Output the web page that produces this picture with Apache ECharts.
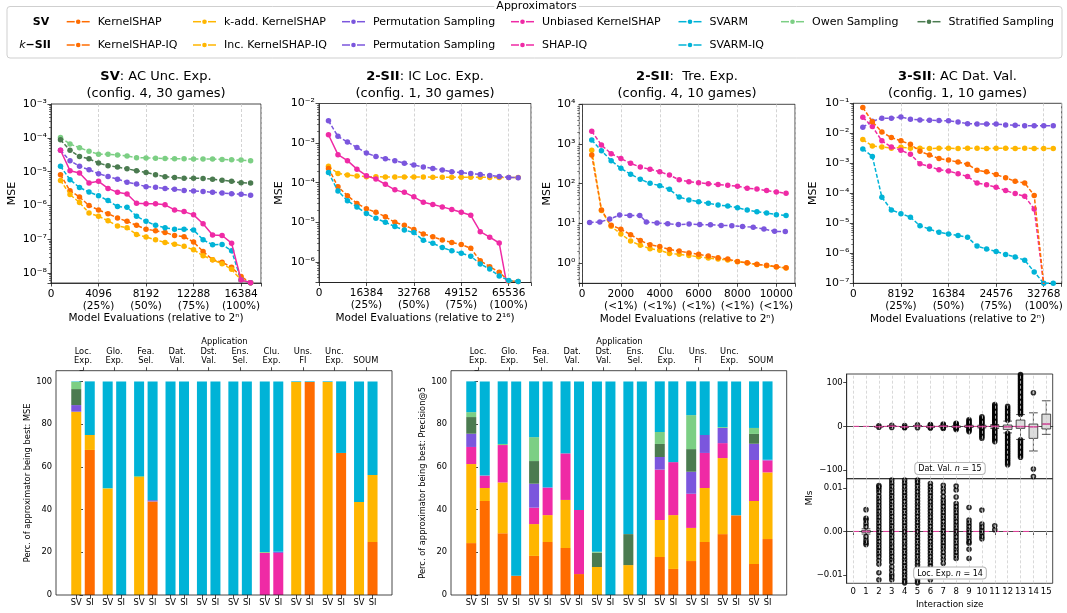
<!DOCTYPE html>
<html>
<head>
<meta charset="utf-8">
<script src="https://cdn.jsdelivr.net/npm/echarts@6/dist/echarts.min.js"></script>
<style>
  html, body { margin: 0; background: #fff; }
  #chart { width: 1067px; height: 613px; }
</style>
</head>
<body>
<div id="chart"></div>
<script>
// colours of the approximators (same colour for the SV and the k-SII variant)
const C = { orange: '#ff6c00', yellow: '#ffb600', purple: '#7b56dd', pink: '#ef2aa5', cyan: '#00b3d7', lgreen: '#7ccf84', dgreen: '#4b7b50' };
const FONT = 'DejaVu Sans';

// ---------- top row: MSE curves ----------
// panel 1: SV, AC Unc. Exp.
const p1X = [819, 1638, 2458, 3277, 4096, 4915, 5734, 6554, 7373, 8192, 9011, 9830, 10650, 11469, 12288, 13107, 13926, 14746, 15565, 16384, 17203];
const p1KernelSHAP = [8.1e-6, 2.74e-6, 1.78e-6, 1.0e-6, 7.4e-7, 5.7e-7, 4.3e-7, 3.4e-7, 2.6e-7, 2.0e-7, 1.8e-7, 1.6e-7, 1.3e-7, 1.2e-7, 8.3e-8, 4.4e-8, 2.5e-8, 2.1e-8, 1.5e-8, 8e-9, 5.2e-9];
const p1KAdd = [5.5e-6, 2.1e-6, 1.23e-6, 6.0e-7, 4.8e-7, 3.55e-7, 2.5e-7, 2.2e-7, 1.4e-7, 1.17e-7, 9.7e-8, 8.1e-8, 7.2e-8, 6.2e-8, 4.9e-8, 3.3e-8, 2.5e-8, 1.9e-8, 1.3e-8, 6.3e-9, 5.2e-9];
const p1Perm = [4.3e-5, 2.1e-5, 1.44e-5, 1.14e-5, 8.7e-6, 7.2e-6, 6.0e-6, 4.9e-6, 4.3e-6, 3.6e-6, 3.45e-6, 3.2e-6, 3.0e-6, 2.8e-6, 2.7e-6, 2.6e-6, 2.45e-6, 2.35e-6, 2.24e-6, 2.14e-6, 2.0e-6];
const p1Unbiased = [4.3e-5, 1.07e-5, 9.1e-6, 4.6e-6, 5.2e-6, 3.2e-6, 2.45e-6, 2.2e-6, 1.17e-6, 1.12e-6, 1.12e-6, 1.05e-6, 7.4e-7, 6.6e-7, 5.3e-7, 2.9e-7, 1.35e-7, 1.3e-7, 7.7e-8, 6.3e-9, 5.2e-9];
const p1Svarm = [1.45e-5, 5.8e-6, 3.4e-6, 2.5e-6, 1.95e-6, 1.4e-6, 9.3e-7, 8.9e-7, 4.8e-7, 3.4e-7, 2.6e-7, 2.2e-7, 2.0e-7, 2.0e-7, 1.9e-7, 9.7e-8, 6.9e-8, 7.1e-8, 4.6e-8, 6.3e-9, 5.2e-9];
const p1Owen = [1.03e-4, 6.6e-5, 5.1e-5, 4.0e-5, 3.3e-5, 3.25e-5, 3.1e-5, 2.9e-5, 2.6e-5, 2.55e-5, 2.5e-5, 2.45e-5, 2.4e-5, 2.4e-5, 2.35e-5, 2.35e-5, 2.35e-5, 2.3e-5, 2.25e-5, 2.2e-5, 2.1e-5];
const p1Strat = [8.8e-5, 4.3e-5, 2.8e-5, 2.4e-5, 1.8e-5, 1.5e-5, 1.37e-5, 1.22e-5, 1.07e-5, 9.5e-6, 8.1e-6, 7.1e-6, 6.7e-6, 6.4e-6, 6.4e-6, 6.3e-6, 6.0e-6, 5.6e-6, 5.2e-6, 4.7e-6, 4.6e-6];
const p1TickVals = [0, 4096, 8192, 12288, 16384];
const p1TickText = ['0', '4096\n(25%)', '8192\n(50%)', '12288\n(75%)', '16384\n(100%)'];

// panel 2: 2-SII, IC Loc. Exp.
const p2X = [3277, 6554, 9830, 13107, 16384, 19661, 22938, 26214, 29491, 32768, 36045, 39322, 42598, 45875, 49152, 52429, 55706, 58982, 62259, 65536, 68813];
const p2KernelSHAPIQ = [2.3e-4, 7.9e-5, 4.7e-5, 3.0e-5, 2.2e-5, 1.8e-5, 1.38e-5, 1.0e-5, 8.4e-6, 6.6e-6, 5.1e-6, 4.3e-6, 3.6e-6, 3.1e-6, 2.74e-6, 2.2e-6, 1.07e-6, 7.6e-7, 5.5e-7, 3.3e-7, 3.2e-7];
const p2IncKS = [2.6e-4, 1.72e-4, 1.56e-4, 1.48e-4, 1.42e-4, 1.41e-4, 1.4e-4, 1.4e-4, 1.39e-4, 1.39e-4, 1.39e-4, 1.38e-4, 1.38e-4, 1.38e-4, 1.37e-4, 1.37e-4, 1.37e-4, 1.36e-4, 1.36e-4, 1.35e-4, 1.35e-4];
const p2Perm = [3.65e-3, 1.48e-3, 1.07e-3, 7.8e-4, 5.6e-4, 4.6e-4, 4.04e-4, 3.6e-4, 3.1e-4, 2.8e-4, 2.5e-4, 2.3e-4, 2.1e-4, 1.9e-4, 1.8e-4, 1.7e-4, 1.62e-4, 1.53e-4, 1.44e-4, 1.36e-4, 1.34e-4];
const p2ShapIQ = [1.63e-3, 5.1e-4, 3.6e-4, 2.2e-4, 1.5e-4, 1.24e-4, 9.1e-5, 6.6e-5, 5.7e-5, 4.4e-5, 3.2e-5, 2.8e-5, 2.45e-5, 2.1e-5, 1.8e-5, 1.5e-5, 5.8e-6, 4.2e-6, 3.0e-6, 1.5e-7, 1.5e-7];
const p2SvarmIQ = [1.8e-4, 6.2e-5, 3.5e-5, 2.45e-5, 1.66e-5, 1.26e-5, 1.0e-5, 7.8e-6, 6.4e-6, 5.5e-6, 3.5e-6, 2.95e-6, 2.3e-6, 1.9e-6, 1.66e-6, 1.39e-6, 8.9e-7, 6.6e-7, 4.4e-7, 3.4e-7, 3.2e-7];
const p2TickVals = [0, 16384, 32768, 49152, 65536];
const p2TickText = ['0', '16384\n(25%)', '32768\n(50%)', '49152\n(75%)', '65536\n(100%)'];

// panel 3: 2-SII, Tre. Exp.
const p3X = [500, 1000, 1500, 2000, 2500, 3000, 3500, 4000, 4500, 5000, 5500, 6000, 6500, 7000, 7500, 8000, 8500, 9000, 9500, 10000, 10500];
const p3PermX = [390, 915, 1425, 1935, 2460, 2970, 3310, 3860, 4410, 4960, 5510, 6060, 6610, 7160, 7710, 8260, 8810, 9360, 9910, 10460];
const p3KernelSHAPIQ = [525, 21.6, 9.0, 7.1, 5.2, 3.7, 2.9, 2.6, 2.2, 2.0, 1.8, 1.66, 1.5, 1.36, 1.26, 1.1, 1.02, 0.93, 0.88, 0.81, 0.76];
const p3IncKS = [700, 21, 8.4, 5.4, 3.6, 2.8, 2.3, 2.1, 1.75, 1.66, 1.56, 1.44, 1.34, 1.26, 1.2, 1.08, 1.0, 0.92, 0.86, 0.8, 0.75];
const p3Perm = [10.5, 10.8, 12.8, 16.2, 15.9, 15.9, 10.9, 10.2, 9.8, 9.3, 9.6, 9.3, 9.2, 8.9, 8.7, 8.3, 8.0, 7.2, 6.3, 6.2];
const p3ShapIQ = [2090, 940, 570, 430, 325, 263, 230, 200, 165, 125, 112, 106, 100, 95, 91, 86, 77, 73, 67, 62, 57];
const p3SvarmIQ = [1260, 680, 380, 243, 174, 129, 102, 89, 72, 46, 39, 35, 32, 29, 27.5, 24.7, 21.7, 19.6, 18.2, 16.6, 15.8];
const p3TickVals = [0, 2000, 4000, 6000, 8000, 10000];
const p3TickText = ['0', '2000\n(<1%)', '4000\n(<1%)', '6000\n(<1%)', '8000\n(<1%)', '10000\n(<1%)'];

// panel 4: 3-SII, AC Dat. Val.
const p4X = [1638, 3277, 4915, 6554, 8192, 9830, 11469, 13107, 14746, 16384, 18022, 19661, 21299, 22938, 24576, 26214, 27853, 29491, 31130, 32768, 34406];
const p4KernelSHAPIQ = [0.072, 0.0245, 0.011, 0.0072, 0.0056, 0.0043, 0.0025, 0.0019, 0.00144, 0.00128, 0.0011, 0.00093, 0.00059, 0.00052, 0.00042, 0.00033, 0.00025, 0.00022, 8.5e-5, 9e-8, 9e-8];
const p4IncKS = [0.0062, 0.0038, 0.0035, 0.0032, 0.0034, 0.0032, 0.0032, 0.0031, 0.0032, 0.0032, 0.0031, 0.0032, 0.0032, 0.0031, 0.0032, 0.0032, 0.0031, 0.0032, 0.0031, 0.0031, 0.0031];
const p4Perm = [0.016, 0.025, 0.032, 0.032, 0.035, 0.0295, 0.028, 0.0272, 0.0265, 0.026, 0.024, 0.021, 0.0205, 0.0205, 0.0205, 0.019, 0.0186, 0.018, 0.018, 0.018, 0.0177];
const p4ShapIQ = [0.034, 0.0168, 0.0056, 0.0035, 0.0027, 0.002, 0.00096, 0.00079, 0.00061, 0.00055, 0.00045, 0.00036, 0.00022, 0.000194, 0.000158, 0.000123, 9.8e-5, 7.9e-5, 3.0e-5, 9e-8, 9e-8];
const p4SvarmIQ = [0.003, 0.0017, 7.4e-5, 2.8e-5, 2.1e-5, 1.6e-5, 8.3e-6, 6.4e-6, 5.0e-6, 4.4e-6, 3.9e-6, 3.4e-6, 1.75e-6, 1.38e-6, 1.15e-6, 9.1e-7, 7.6e-7, 5.9e-7, 2.4e-7, 1e-7, 1e-7];
const p4TickVals = [0, 8192, 16384, 24576, 32768];
const p4TickText = ['0', '8192\n(25%)', '16384\n(50%)', '24576\n(75%)', '32768\n(100%)'];

// ---------- bottom row: share of approximator being best (stack order bottom -> top) ----------
const appLabels = ['Loc.\nExp.', 'Glo.\nExp.', 'Fea.\nSel.', 'Dat.\nVal.', 'Dst.\nVal.', 'Ens.\nSel.', 'Clu.\nExp.', 'Uns.\nFI', 'Unc.\nExp.', 'SOUM'];
const mseSV = [
  [C.orange, [0, 0, 0, 0, 0, 0, 0, 0, 0, 0]],
  [C.yellow, [85.8, 49.8, 55.2, 0, 0, 0, 0, 99.7, 99.7, 43.5]],
  [C.pink,   [0, 0, 0, 0, 0, 0, 19.7, 0, 0, 0]],
  [C.purple, [3.1, 0, 0, 0, 0, 0, 0, 0, 0, 0]],
  [C.dgreen, [7.5, 0, 0, 0, 0, 0, 0, 0, 0, 0]],
  [C.lgreen, [3.4, 0.3, 0.5, 0, 0, 0, 0.4, 0, 0, 0]],
  [C.cyan,   [0.2, 49.9, 44.3, 100, 100, 100, 79.9, 0.3, 0.3, 56.5]]
];
const mseSI = [
  [C.orange, [67.9, 0, 43.8, 0, 0, 0, 0, 99.7, 66.5, 24.8]],
  [C.yellow, [7.0, 0, 0, 0, 0, 0, 0, 0, 0, 31.4]],
  [C.pink,   [0, 0, 0, 0, 0, 0, 19.7, 0, 0, 0]],
  [C.purple, [0, 0, 0.6, 0, 0, 0, 0.5, 0, 0, 0]],
  [C.cyan,   [25.1, 100, 55.6, 100, 100, 100, 79.8, 0.3, 33.5, 43.8]]
];
const precSV = [
  [C.orange, [24.3, 28.9, 18.3, 22.0, 0, 0, 17.8, 15.9, 28.5, 14.5]],
  [C.yellow, [37.0, 23.8, 14.9, 22.5, 13.1, 14.0, 17.3, 15.5, 35.6, 29.5]],
  [C.pink,   [8.0, 17.5, 7.7, 21.8, 0, 0, 23.6, 16.0, 7.0, 19.2]],
  [C.purple, [6.2, 0, 11.2, 0, 0, 0, 5.9, 10.3, 7.1, 7.6]],
  [C.dgreen, [7.8, 0, 10.6, 0, 6.7, 14.5, 6.1, 10.6, 0, 4.6]],
  [C.lgreen, [2.3, 0.5, 11.2, 0, 0.5, 0, 5.6, 15.9, 0.4, 2.8]],
  [C.cyan,   [14.4, 29.3, 26.1, 33.7, 79.7, 71.5, 23.7, 15.8, 21.4, 21.8]]
];
const precSI = [
  [C.orange, [44.0, 9.0, 24.8, 9.8, 0, 0, 12.2, 24.8, 37.3, 26.2]],
  [C.yellow, [6.1, 0, 12.6, 0, 0, 0, 25.2, 25.3, 0, 31.2]],
  [C.pink,   [5.8, 0, 12.7, 30.0, 0, 0, 24.8, 16.4, 0, 5.6]],
  [C.purple, [0, 0, 0.3, 0, 0, 0, 0, 8.4, 0, 0.3]],
  [C.cyan,   [44.1, 91.0, 49.6, 60.2, 100, 100, 37.8, 25.1, 62.7, 36.7]]
];

// ---------- bottom right: MI distribution per interaction size ----------
const sizes = ['0', '1', '2', '3', '4', '5', '6', '7', '8', '9', '10', '11', '12', '13', '14', '15'];
// [lower whisker, Q1, median, Q3, upper whisker]
const datValBoxes = [null, null,
  [-1.3, -1.0, -0.8, -0.6, -0.3], [-0.5, 0, 0.3, 0.6, 1], [-2, -1.6, -1.2, -0.8, -0.4], [-0.5, 0, 0.5, 1, 1.5],
  [-2.5, -1.5, -1, -0.5, 0.5], [-1.5, -0.5, 0.3, 1, 2], [-2.5, -1.5, -0.8, 0, 1], [-2.5, -1, 0, 1, 2.5],
  [-3.5, -1.5, -0.5, 0.5, 2.5], [-5, -1.5, 0, 1.5, 4], [-15, -7, -1, 3, 12], [-30, -4.6, -0.5, 14.4, 27],
  [-56.5, -27.5, -1, 5.3, 31], [-18.3, -6, 5.3, 28, 58.6]];
const datValOutliers = [[], [],
  [-2, 1.5], [-2.5, 2.5], [-3, -2, 2], [-3, 3.5], [-4, -2.5, 2.5, 4], [-5, -3, 3, 5], [-7, -5, -3, 3, 5, 7],
  [-12, -9, -6, -3.5, 3.5, 6, 9, 12, 15],
  [-27, -23, -19, -15, -11, -7, -4, 4, 7, 10, 13, 16, 19, 22],
  [-35, -31, -27, -23, -19, -15, -11, -7, 5, 8, 11, 14, 17, 20, 23, 26, 29, 32, 35, 38, 41, 44, 47, 50],
  [-88, -84, -80, -76, -72, -68, -64, -60, -56, -52, -48, -44, -40, -36, -32, -28, -24, -20, -16, 14, 18, 22, 26, 30, 34, 38, 42, 46],
  [-71, -67, -63, -59, -55, -51, -47, -43, -39, -35, -31, 28, 32, 36, 40, 44, 48, 52, 56, 60, 64, 68, 72, 76, 80, 84, 88, 92, 96, 100, 104, 108, 112, 116, 119],
  [77, -98, -115], []];
// Loc. Exp. values are in thousandths
const MI_UNIT = 1e-3;
const locExpBoxes = [null, [-0.6, -0.2, 0, 0.2, 0.6]];
const locExpOutliers = [[],
  [5.0, 3.0, 2.6, 1.8, 1.1, -1.2, -2.0, -2.6, -3.0],
  [10.5, 10.2, 9.6, 9.0, 8.2, 7.5, 6.8, 6.1, 5.4, 4.7, 4.0, 3.3, 2.6, 1.9, 1.2, 0.5, -0.2, -0.9, -1.6, -2.3, -3.0, -3.7, -4.4, -5.1, -5.8, -6.6, -7.5, -9.5, -11.1],
  [11.8, 11.1, 10.4, 9.7, 9.0, 8.3, 7.6, 6.9, 6.2, 5.5, 4.8, 4.1, 3.4, 2.7, 2.0, 1.3, 0.6, -0.1, -0.8, -1.5, -2.2, -2.9, -3.6, -4.3, -5.0, -5.7, -6.4, -7.1, -8.1, -8.9, -9.8, -10.4, -11.1],
  [11.8, 11.1, 10.4, 9.7, 9.0, 8.3, 7.6, 6.9, 6.2, 5.5, 4.8, 4.1, 3.4, 2.7, 2.0, 1.3, 0.6, -0.1, -0.8, -1.5, -2.2, -2.9, -3.6, -4.3, -5.0, -5.7, -6.4, -7.1, -7.8, -8.5, -9.2, -9.9, -10.6, -11.3, -11.8],
  [11.8, 11.2, 10.5, 9.8, 9.1, 8.4, 7.7, 7.0, 6.3, 5.6, 4.9, 4.2, 3.5, 2.8, 2.1, 1.4, 0.7, 0, -0.7, -1.4, -2.1, -2.8, -3.5, -4.2, -4.9, -5.6, -6.3, -7.0, -7.7, -8.4, -9.1, -9.8, -10.5, -11.2, -11.8],
  [11.0, 10.3, 9.6, 8.9, 8.2, 7.5, 6.8, 6.1, 5.4, 4.7, 4.0, 3.3, 2.6, 1.9, 1.2, 0.5, -0.2, -0.9, -1.6, -2.3, -3.0, -3.7, -4.4, -5.1, -5.8, -6.5, -7.2, -7.9, -8.6, -9.6, -10.4, -11.1],
  [10.6, 9.8, 9.0, 8.0, 7.2, 6.5, 5.8, 5.1, 4.4, 3.7, 3.0, 2.3, 1.6, 0.9, 0.2, -0.5, -1.2, -1.9, -2.6, -3.3, -4.0, -4.8, -5.6, -6.4, -7.3],
  [10.4, 9.5, 7.9, 6.4, 5.7, 5.0, 4.3, 3.6, 2.9, 2.2, 1.5, 0.8, 0.1, -0.6, -1.3, -2.0, -2.7, -3.4, -4.1, -4.8, -5.5, -6.2],
  [5.5, 2.6, 1.9, 1.2, 0.5, -0.2, -0.9, -1.6, -2.3, -2.7, -4.1, -6.2],
  [4.9, 1.7, 1.0, 0.3, -0.4, -1.1, -1.7],
  [1.3, 0.4], [], [], [], []];

// ---------- helpers ----------
const SUP = { '-': '\u207b', '0': '\u2070', '1': '\u00b9', '2': '\u00b2', '3': '\u00b3', '4': '\u2074', '5': '\u2075', '6': '\u2076', '7': '\u2077', '8': '\u2078', '9': '\u2079' };
function powLabel(v) {
  const e = Math.log10(v), r = Math.round(e);
  if (Math.abs(e - r) > 1e-6) return '';
  return '10' + String(r).split('').map(c => SUP[c]).join('');
}
// minor tick positions of a log axis (2..9 x 10^k inside the range)
function logMinor(min, max) {
  const out = [];
  for (let e = Math.floor(Math.log10(min)); e <= Math.ceil(Math.log10(max)); e++) {
    for (let m = 2; m <= 9; m++) { const v = m * Math.pow(10, e); if (v > min && v < max) out.push(v); }
  }
  return out;
}
const minus = s => String(s).replace('-', '\u2212');
const black = '#1a1a1a';
const tickStyle = { show: true, length: 3.5, lineStyle: { color: black, width: 0.8 } };
const lineAxis = { show: true, lineStyle: { color: black, width: 0.8 } };
const gridLine = { show: true, lineStyle: { color: '#c9c9c9', type: [3, 2], width: 0.8 } };

function logY(gi, min, max, gap) {
  return {
    type: 'log', logBase: 10, gridIndex: gi, min, max, position: 'left',
    axisLine: lineAxis, axisTick: tickStyle, splitLine: { show: false },
    axisLabel: { formatter: powLabel, fontSize: 11, color: '#000', margin: 4 },
    name: 'MSE', nameLocation: 'middle', nameGap: gap, nameTextStyle: { fontSize: 11, color: '#000' }
  };
}
function logMinorY(gi, min, max) {
  const vals = logMinor(min, max);
  return {
    type: 'log', logBase: 10, gridIndex: gi, min, max, position: 'left',
    axisLine: { show: false }, splitLine: { show: false },
    axisTick: { show: true, length: 2, customValues: vals, lineStyle: { color: black, width: 0.6 } },
    axisLabel: { show: false, customValues: vals }
  };
}
function evalX(gi, min, max, interval, vals, texts, name) {
  const ax = {
    type: 'value', gridIndex: gi, min, max,
    axisLine: lineAxis, axisTick: tickStyle, splitLine: gridLine,
    axisLabel: {
      fontSize: 10.5, color: '#000', margin: 5, lineHeight: 12,
      formatter: v => { const i = vals.indexOf(v); return i < 0 ? '' : texts[i]; }
    },
    name, nameLocation: 'middle', nameGap: 30, nameTextStyle: { fontSize: 10.5, color: '#000' }
  };
  if (interval) ax.interval = interval; else ax.splitNumber = 5;
  return ax;
}
function mseSeries(gi, xs, rows) {
  return rows.map(([name, color, ys, solid, ownX], k) => ({
    type: 'line', name, xAxisIndex: gi, yAxisIndex: gi, z: 3 + k,
    data: (ownX || xs).map((x, i) => [x, ys[i]]),
    symbol: 'circle', symbolSize: 5.5, showSymbol: true, clip: true,
    itemStyle: { color }, lineStyle: { color, width: 1.5, type: solid ? 'solid' : [4, 2] },
    emphasis: { disabled: true }
  }));
}

// bar charts: a category axis carries the bars (SV stack left, SI stack right of each group),
// two value axes over the same range carry the SV/SI and application labels
const groupPos = appLabels.map((_, i) => i);
const BAR_OFF = 0.215;
const svsiPos = groupPos.flatMap(p => [p - BAR_OFF, p + BAR_OFF]);
function barAxesX(gi) {
  return [{
    type: 'category', gridIndex: gi, position: 'bottom', data: appLabels, show: false
  }, {
    type: 'value', gridIndex: gi, position: 'bottom', min: -0.5, max: 9.5,
    axisLine: { show: false }, splitLine: { show: false },
    axisTick: Object.assign({ customValues: svsiPos }, tickStyle),
    axisLabel: { customValues: svsiPos, fontSize: 8.3, color: '#000', margin: 4,
      formatter: v => (v - Math.round(v) < 0 ? 'SV' : 'SI') }
  }, {
    type: 'value', gridIndex: gi, position: 'top', min: -0.5, max: 9.5,
    axisLine: { show: false }, splitLine: { show: false },
    axisTick: Object.assign({ customValues: groupPos }, tickStyle),
    axisLabel: { customValues: groupPos, fontSize: 8.3, color: '#000', margin: 5, lineHeight: 9.5,
      formatter: v => appLabels[Math.round(v)] || '' },
    name: 'Application', nameLocation: 'middle', nameGap: 25, nameTextStyle: { fontSize: 8.3, color: '#000' }
  }];
}
function barY(gi, name) {
  return {
    type: 'value', gridIndex: gi, min: 0, max: 105, interval: 20, offset: 11.3,
    axisLine: { show: false }, axisTick: tickStyle, splitLine: { show: false },
    axisLabel: { fontSize: 8.3, color: '#000', margin: 4, formatter: v => (v <= 100 ? String(v) : '') },
    name, nameLocation: 'middle', nameGap: 24, nameTextStyle: { fontSize: 8.3, color: '#000' }
  };
}
function barSeries(xi, yi, rows, stack) {
  return rows.map(([color, vals]) => ({
    type: 'bar', xAxisIndex: xi, yAxisIndex: yi, stack, barWidth: 10, barGap: '35%',
    data: vals, itemStyle: { color }, emphasis: { disabled: true }
  }));
}

// box plot helpers
const EMPTY = ['-', '-', '-', '-', '-'];
function boxSeries(xi, yi, boxes, unit) {
  const data = sizes.map((_, i) => (boxes[i] ? boxes[i].map(v => v * unit) : EMPTY));
  return {
    type: 'boxplot', xAxisIndex: xi, yAxisIndex: yi, data, boxWidth: [8.7, 8.7], z: 3,
    itemStyle: { color: '#dcdcdc', borderColor: '#222', borderWidth: 0.8 }, emphasis: { disabled: true }
  };
}
function medianSeries(xi, yi, boxes, unit) {
  const data = [];
  boxes.forEach((b, i) => { if (b) data.push([i, b[2] * unit]); });
  return { type: 'scatter', xAxisIndex: xi, yAxisIndex: yi, data, symbol: 'rect', symbolSize: [8, 1.6], z: 5,
    itemStyle: { color: '#f04fae' }, emphasis: { disabled: true } };
}
function outlierSeries(xi, yi, lists, unit) {
  const data = [];
  lists.forEach((l, i) => l.forEach(v => data.push([i, v * unit])));
  return { type: 'scatter', xAxisIndex: xi, yAxisIndex: yi, data, symbol: 'circle', symbolSize: 4.2, z: 4, clip: true,
    itemStyle: { color: 'rgba(0,0,0,0.6)', borderColor: '#000', borderWidth: 1.4 }, emphasis: { disabled: true } };
}
function zeroLine(xi, yi, last) {
  return {
    type: 'line', xAxisIndex: xi, yAxisIndex: yi, data: [[0, 0], [last, 0]], symbol: 'none', z: 2,
    lineStyle: { color: '#e8409f', width: 1, type: [6, 4] }, emphasis: { disabled: true },
    markLine: { silent: true, symbol: 'none', label: { show: false },
      lineStyle: { color: '#cfcfcf', type: [3, 2], width: 0.8 },
      data: sizes.map(s => ({ xAxis: s })) }
  };
}
function boxY(gi, min, max, ticks, fmt) {
  return {
    type: 'value', gridIndex: gi, min, max,
    axisLine: lineAxis, splitLine: { show: false },
    axisTick: Object.assign({ customValues: ticks }, tickStyle),
    axisLabel: { customValues: ticks, fontSize: 8.5, color: '#000', margin: 4, formatter: fmt }
  };
}

// legend (drawn as graphic elements, two rows)
const legendCols = [78.2, 204.5, 353.5, 522.5, 690, 792.5, 929];
const legendRow1 = [['KernelSHAP', C.orange], ['k-add. KernelSHAP', C.yellow], ['Permutation Sampling', C.purple], ['Unbiased KernelSHAP', C.pink], ['SVARM', C.cyan], ['Owen Sampling', C.lgreen], ['Stratified Sampling', C.dgreen]];
const legendRow2 = [['KernelSHAP-IQ', C.orange], ['Inc. KernelSHAP-IQ', C.yellow], ['Permutation Sampling', C.purple], ['SHAP-IQ', C.pink], ['SVARM-IQ', C.cyan]];
function legendItem(x, y, label, color) {
  return [
    { type: 'line', shape: { x1: x - 11.5, y1: y, x2: x - 3.5, y2: y }, style: { stroke: color, lineWidth: 1.5 } },
    { type: 'line', shape: { x1: x + 3.5, y1: y, x2: x + 11.5, y2: y }, style: { stroke: color, lineWidth: 1.5 } },
    { type: 'circle', shape: { cx: x, cy: y, r: 2.3 }, style: { fill: color } },
    { type: 'text', x: x + 19.5, y, style: { text: label, font: '11px ' + FONT, fill: '#000', verticalAlign: 'middle' } }
  ];
}
function titleText(cx, bold, rest, line2) {
  return [
    { type: 'text', x: cx, y: 77, style: { text: '{b|' + bold + '}' + rest, font: '13px ' + FONT, fill: '#000', align: 'center', verticalAlign: 'middle',
      rich: { b: { fontWeight: 'bold', fontSize: 13, fontFamily: FONT } } } },
    { type: 'text', x: cx, y: 93.5, style: { text: line2, font: '13px ' + FONT, fill: '#000', align: 'center', verticalAlign: 'middle' } }
  ];
}
function noteBox(cx, cy, pre, post) {
  return { type: 'text', x: cx, y: cy, z: 20, style: {
    text: pre + '{i|n} = ' + post, font: '8px ' + FONT, fill: '#000', align: 'center', verticalAlign: 'middle',
    rich: { i: { fontStyle: 'italic', fontSize: 8, fontFamily: FONT } },
    backgroundColor: '#fff', borderColor: '#b5b5b5', borderWidth: 1, borderRadius: 3, padding: [2, 3, 1, 3] } };
}
const frame = (x, y, w, h) => ({ type: 'rect', z: 30, shape: { x, y, width: w, height: h }, style: { fill: 'none', stroke: black, lineWidth: 0.8 } });

const graphic = [
  { type: 'rect', shape: { x: 7, y: 6.5, width: 1055, height: 51.5, r: 3 }, style: { fill: '#fff', stroke: '#cfcfcf', lineWidth: 1 } },
  { type: 'text', x: 536.6, y: 6.5, style: { text: 'Approximators', font: '11px ' + FONT, fill: '#000', align: 'center', verticalAlign: 'middle', backgroundColor: '#fff', padding: [0, 2] } },
  { type: 'text', x: 41, y: 21.7, style: { text: 'SV', font: 'bold 11px ' + FONT, fill: '#000', align: 'center', verticalAlign: 'middle' } },
  { type: 'text', x: 35, y: 45, style: { text: '{i|k}{b|\u2212SII}', font: '11px ' + FONT, fill: '#000', align: 'center', verticalAlign: 'middle',
    rich: { i: { fontStyle: 'italic', fontSize: 11, fontFamily: FONT }, b: { fontWeight: 'bold', fontSize: 11, fontFamily: FONT } } } },
  ...legendRow1.flatMap(([n, c], i) => legendItem(legendCols[i], 21.7, n, c)),
  ...legendRow2.flatMap(([n, c], i) => legendItem(legendCols[i], 45, n, c)),
  ...titleText(156, 'SV', ': AC Unc. Exp.', '(config. 4, 30 games)'),
  ...titleText(425, '2-SII', ': IC Loc. Exp.', '(config. 1, 30 games)'),
  ...titleText(687, '2-SII', ':  Tre. Exp.', '(config. 4, 10 games)'),
  ...titleText(957.5, '3-SII', ': AC Dat. Val.', '(config. 1, 10 games)'),
  frame(56, 370.7, 336, 224.3),
  frame(451, 370.7, 335.7, 224.3),
  noteBox(950, 468.5, 'Dat. Val. ', '15'),
  noteBox(950, 573, 'Loc. Exp. ', '14'),
  { type: 'text', x: 810, y: 498, rotation: Math.PI / 2, style: { text: 'MIs', font: '9px ' + FONT, fill: '#000', align: 'center', verticalAlign: 'middle' } }
];

const grids = [
  { left: 51, top: 104, width: 210, height: 179, show: true },
  { left: 319, top: 103.5, width: 212, height: 179, show: true },
  { left: 579.3, top: 104.3, width: 215.7, height: 179, show: true },
  { left: 853.3, top: 103.3, width: 208.4, height: 180, show: true },
  { left: 67.3, top: 370.7, width: 314.2, height: 224.3, show: false },
  { left: 462.3, top: 370.7, width: 314.2, height: 224.3, show: false },
  { left: 846.7, top: 374, width: 206, height: 104.7, show: true },
  { left: 846.7, top: 478.7, width: 206, height: 104.6, show: true }
].map(g => Object.assign(g, { borderColor: black, borderWidth: 0.8, backgroundColor: 'transparent', containLabel: false, outerBoundsMode: 'none' }));

const yRanges = [[Math.pow(10, -8.29), 1e-3], [Math.pow(10, -6.52), 1e-2], [Math.pow(10, -0.51), 1e4], [1e-7, 1e-1]];

const chart = echarts.init(document.getElementById('chart'), null, { renderer: 'canvas' });
chart.setOption({
  animation: false,
  backgroundColor: '#fff',
  textStyle: { fontFamily: FONT },
  grid: grids,
  graphic,
  xAxis: [
    evalX(0, 0, 18100, 4096, p1TickVals, p1TickText, 'Model Evaluations (relative to 2\u207f)'),
    evalX(1, 0, 73240, 16384, p2TickVals, p2TickText, 'Model Evaluations (relative to 2\u00b9\u2076)'),
    evalX(2, -140, 10960, null, p3TickVals, p3TickText, 'Model Evaluations (relative to 2\u207f)'),
    evalX(3, 0, 35860, 8192, p4TickVals, p4TickText, 'Model Evaluations (relative to 2\u207f)'),
    ...barAxesX(4),   // x axes 4, 5, 6
    ...barAxesX(5),   // x axes 7, 8, 9
    { type: 'category', gridIndex: 6, data: sizes, boundaryGap: true, axisLine: lineAxis,
      axisTick: { show: false }, axisLabel: { show: false }, splitLine: { show: false } },
    { type: 'category', gridIndex: 7, data: sizes, boundaryGap: true, axisLine: lineAxis,
      axisTick: Object.assign({ alignWithLabel: true }, tickStyle), splitLine: { show: false },
      axisLabel: { fontSize: 8.5, color: '#000', margin: 4, interval: 0 },
      name: 'Interaction size', nameLocation: 'middle', nameGap: 17, nameTextStyle: { fontSize: 8.8, color: '#000' } }
  ],
  yAxis: [
    logY(0, yRanges[0][0], yRanges[0][1], 33),
    logY(1, yRanges[1][0], yRanges[1][1], 34),
    logY(2, yRanges[2][0], yRanges[2][1], 27),
    logY(3, yRanges[3][0], yRanges[3][1], 35),
    barY(4, 'Perc. of approximator being best: MSE'),
    barY(5, 'Perc. of approximator being best: Precision@5'),
    boxY(6, -120, 120, [-100, 0, 100], v => minus(v)),
    boxY(7, -0.0119, 0.0121, [-0.01, 0, 0.01], v => minus(v.toFixed(2))),
    ...yRanges.map((r, i) => logMinorY(i, r[0], r[1]))   // y axes 8..11: minor ticks only
  ],
  series: [
    ...mseSeries(0, p1X, [
      ['KernelSHAP', C.orange, p1KernelSHAP], ['k-add. KernelSHAP', C.yellow, p1KAdd], ['Permutation Sampling', C.purple, p1Perm],
      ['Owen Sampling', C.lgreen, p1Owen], ['Stratified Sampling', C.dgreen, p1Strat],
      ['SVARM', C.cyan, p1Svarm], ['Unbiased KernelSHAP', C.pink, p1Unbiased, true]]),
    ...mseSeries(1, p2X, [
      ['Inc. KernelSHAP-IQ', C.yellow, p2IncKS], ['Permutation Sampling', C.purple, p2Perm],
      ['SHAP-IQ', C.pink, p2ShapIQ, true], ['KernelSHAP-IQ', C.orange, p2KernelSHAPIQ], ['SVARM-IQ', C.cyan, p2SvarmIQ]]),
    ...mseSeries(2, p3X, [
      ['Inc. KernelSHAP-IQ', C.yellow, p3IncKS], ['KernelSHAP-IQ', C.orange, p3KernelSHAPIQ],
      ['Permutation Sampling', C.purple, p3Perm, false, p3PermX], ['SVARM-IQ', C.cyan, p3SvarmIQ], ['SHAP-IQ', C.pink, p3ShapIQ]]),
    ...mseSeries(3, p4X, [
      ['Inc. KernelSHAP-IQ', C.yellow, p4IncKS], ['Permutation Sampling', C.purple, p4Perm],
      ['SVARM-IQ', C.cyan, p4SvarmIQ], ['SHAP-IQ', C.pink, p4ShapIQ], ['KernelSHAP-IQ', C.orange, p4KernelSHAPIQ]]),
    ...barSeries(4, 4, mseSV, 'mseSV'),
    ...barSeries(4, 4, mseSI, 'mseSI'),
    ...barSeries(7, 5, precSV, 'precSV'),
    ...barSeries(7, 5, precSI, 'precSI'),
    zeroLine(10, 6, 15),
    boxSeries(10, 6, datValBoxes, 1),
    outlierSeries(10, 6, datValOutliers, 1),
    medianSeries(10, 6, datValBoxes, 1),
    zeroLine(11, 7, 14),
    boxSeries(11, 7, locExpBoxes, MI_UNIT),
    outlierSeries(11, 7, locExpOutliers, MI_UNIT),
    medianSeries(11, 7, locExpBoxes, MI_UNIT)
  ]
});
</script>
</body>
</html>
